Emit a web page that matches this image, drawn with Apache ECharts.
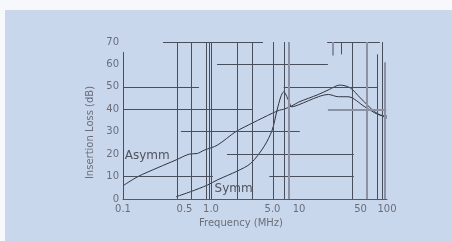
<!DOCTYPE html>
<html>
<head>
<meta charset="utf-8">
<script src="https://cdn.jsdelivr.net/npm/echarts@6/dist/echarts.min.js"></script>
<style>
  html, body { margin: 0; padding: 0; background: #f6f8fc; }
  #chart { position: absolute; left: 5px; top: 10px; width: 447px; height: 231px; background: #c9d7ed; }
</style>
</head>
<body>
<div id="chart"></div>
<script>
// frequency (MHz) / insertion loss (dB)
var asymmFreq = [0.1, 0.148, 0.25, 0.4, 0.565, 0.7, 0.84, 1.18, 1.91, 3.0, 4.95, 6.0, 6.7, 8.3, 9.9, 16.6, 22, 29, 38, 50, 72.5, 100];
var asymmLoss = [5.9, 10, 14, 17.4, 20, 20.3, 21.8, 24, 30, 34, 38.2, 39.6, 40, 41.5, 43.2, 46.6, 48.8, 50.8, 49.6, 45, 38.9, 36];
var symmFreq = [0.4, 0.59, 0.91, 1.18, 2.0, 2.83, 3.99, 4.95, 5.63, 6.2, 6.7, 7.6, 8.3, 9.9, 16.6, 21.6, 28, 36, 56, 79, 100];
var symmLoss = [1, 3.3, 6.2, 8.5, 12.5, 15.9, 23.3, 30.7, 39.6, 45.5, 47.8, 44, 41.1, 42, 45.6, 46.6, 45.6, 45.6, 41.1, 37.7, 37];

var xTickValues = [0.1, 0.5, 1, 5, 10, 50, 100];
var xTickLabels = ['0.1', '0.5', '1.0', '5.0', '10', '50', '100'];

// scanned grid pieces: [freq from, freq to, dB]
var hSegments = [
  [0.285, 3.9, 70], [20.9, 83, 70],
  [1.17, 21.3, 60],
  [0.1, 0.73, 50], [6.7, 79, 50],
  [0.1, 3.0, 40],
  [0.455, 10.2, 30],
  [1.52, 42, 20],
  [0.1, 1.05, 10], [4.6, 42, 10]
];
var hSegmentsGray = [[21.3, 98, 40]];
// [freq, dB from, dB to]
var vSegments = [
  [0.1, 0, 65.5],
  [0.41, 0, 70], [0.59, 0, 70], [0.88, 0, 70], [0.95, 0, 70], [1.0, 0, 70],
  [1.97, 0, 70], [2.92, 0, 70], [5.1, 0, 70], [6.76, 0, 70],
  [30, 64.5, 70], [40, 0, 70], [77, 0, 64.5], [88, 0, 70]
];
var vSegmentsGray = [[7.7, 0, 70], [59, 0, 70], [95, 0, 61], [24, 64, 70]];

function lg(f) { return Math.log10(f); }
function pairs(fs, vs) {
  return fs.map(function (f, i) { return [lg(f), vs[i]]; });
}
function hLines(list) {
  return list.map(function (s) { return [{ coord: [lg(s[0]), s[2]] }, { coord: [lg(s[1]), s[2]] }]; });
}
function vLines(list) {
  return list.map(function (s) { return [{ coord: [lg(s[0]), s[1]] }, { coord: [lg(s[0]), s[2]] }]; });
}

var myChart = echarts.init(document.getElementById('chart'));

var textColor = '#6b6e78';
var option = {
  animation: false,
  grid: { left: 118, right: 65, top: 32, bottom: 42 },
  xAxis: {
    type: 'value',
    min: -1,
    max: 2,
    name: 'Frequency (MHz)',
    nameLocation: 'middle',
    nameGap: 19,
    nameTextStyle: { color: textColor, fontSize: 10, fontFamily: 'DejaVu Sans', padding: [0, 28, 0, 0] },
    axisLine: { show: true, lineStyle: { color: '#555a66', width: 1 } },
    axisTick: { show: false },
    splitLine: { show: false },
    axisLabel: {
      customValues: xTickValues.map(lg),
      color: textColor,
      fontSize: 10,
      fontFamily: 'DejaVu Sans',
      margin: 5,
      formatter: function (v) {
        for (var i = 0; i < xTickValues.length; i++) {
          if (Math.abs(lg(xTickValues[i]) - v) < 1e-6) return xTickLabels[i];
        }
        return '';
      }
    }
  },
  yAxis: {
    type: 'value',
    min: 0,
    max: 70,
    interval: 10,
    name: 'Insertion Loss (dB)',
    nameLocation: 'middle',
    nameGap: 21,
    nameTextStyle: { color: textColor, fontSize: 10, fontFamily: 'DejaVu Sans', padding: [0, 24, 0, 0] },
    axisLine: { show: false },
    axisTick: { show: false },
    splitLine: { show: false },
    axisLabel: { color: textColor, fontSize: 10, fontFamily: 'DejaVu Sans', margin: 4 }
  },
  series: [
    {
      name: 'grid',
      type: 'line',
      data: [],
      silent: true,
      markLine: {
        silent: true,
        symbol: 'none',
        label: { show: false },
        lineStyle: { color: '#4a4e5a', width: 1, type: 'solid' },
        data: hLines(hSegments).concat(vLines(vSegments))
      }
    },
    {
      name: 'grid2',
      type: 'line',
      data: [],
      silent: true,
      markLine: {
        silent: true,
        symbol: 'none',
        label: { show: false },
        lineStyle: { color: '#8a92a4', width: 2, type: 'solid' },
        data: hLines(hSegmentsGray).concat(vLines(vSegmentsGray))
      }
    },
    {
      name: 'Asymm',
      type: 'line',
      data: pairs(asymmFreq, asymmLoss),
      smooth: 0.3,
      showSymbol: false,
      lineStyle: { color: '#30333c', width: 1 },
      markPoint: {
        symbolSize: 0,
        label: { show: true, position: 'right', distance: 0, color: '#50535c', fontSize: 12, fontFamily: 'DejaVu Sans', formatter: 'Asymm' },
        data: [{ coord: [-0.98, 19.2] }]
      }
    },
    {
      name: 'Symm',
      type: 'line',
      data: pairs(symmFreq, symmLoss),
      smooth: 0.3,
      showSymbol: false,
      lineStyle: { color: '#30333c', width: 1 },
      markPoint: {
        symbolSize: 0,
        label: { show: true, position: 'right', distance: 0, color: '#50535c', fontSize: 12, fontFamily: 'DejaVu Sans', formatter: 'Symm' },
        data: [{ coord: [0.04, 4.5] }]
      }
    }
  ]
};

myChart.setOption(option);
</script>
</body>
</html>
